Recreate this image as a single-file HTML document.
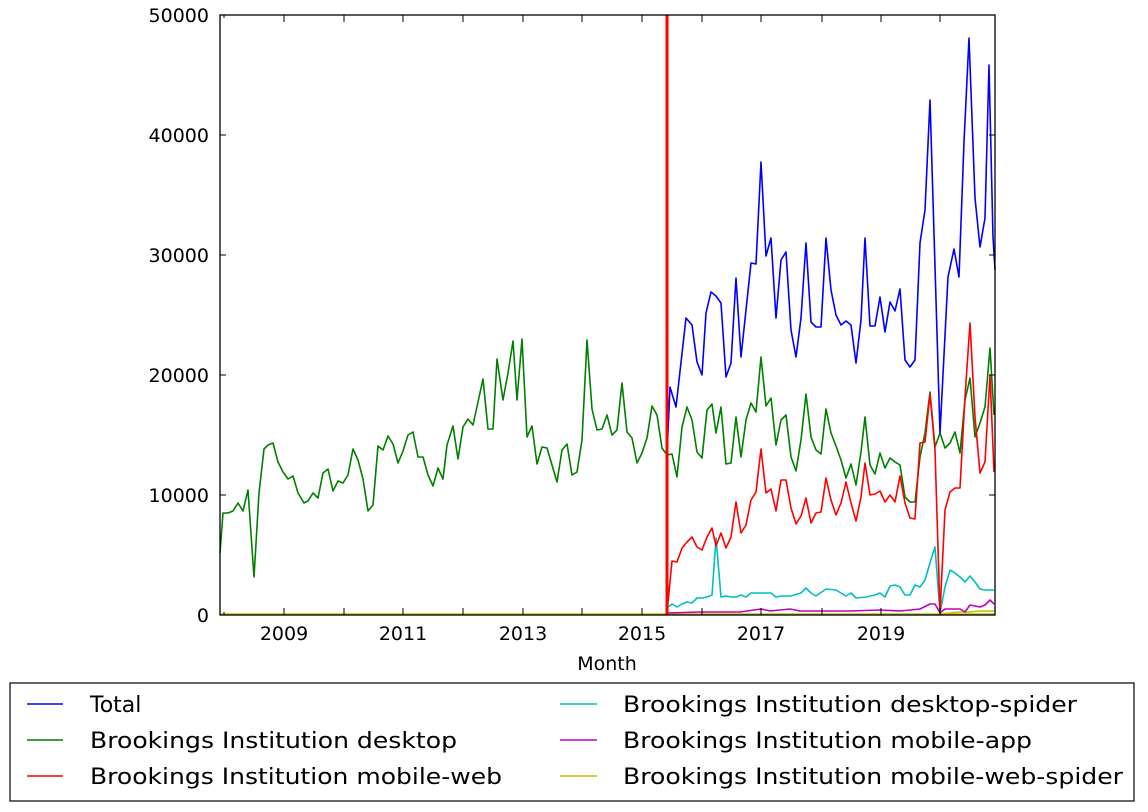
<!DOCTYPE html>
<html><head><meta charset="utf-8"><style>
html,body{margin:0;padding:0;background:#fff;}
svg{display:block;font-family:"DejaVu Sans","Liberation Sans",sans-serif;}
</style></head><body>
<svg width="1148" height="812" viewBox="0 0 1148 812" xmlns="http://www.w3.org/2000/svg">
<rect width="1148" height="812" fill="#fff"/>
<g fill="none" stroke-width="1.6" stroke-linejoin="round">
<!-- yellow baseline -->
<polyline stroke="#bfbf00" points="220,614 995,614"/>
<polyline stroke="#bfbf00" points="940,614 950,613 960,612 970,612 980,611 995,611"/>
<!-- magenta -->
<polyline stroke="#bf00bf" points="667,613 700,612 740,612 761,609 770,611 790,609 800,611 850,611 880,610 900,611 920,609 930,604 935,604 940,613 945,609 960,609 965,612 970,605 980,607 985,605 990,600 994,604"/>
<!-- cyan -->
<polyline stroke="#00bfbf" points="667,608 672,604 677,607 682,604 687,602 692,603 697,598 702,598 707,597 712,595 716,538 721,597 726,596 731,597 736,597 741,595 746,597 751,593 756,593 761,593 766,593 771,593 776,597 781,596 791,596 801,593 806,588 811,593 816,596 826,589 836,590 846,596 851,593 856,598 866,597 875,595 880,593 885,597 890,586 895,585 900,587 905,595 910,595 915,585 920,587 925,580 930,563 935,547 940,613 945,587 950,570 955,573 960,577 965,582 970,576 975,582 980,589 985,590 990,590 994,590"/>
<!-- green -->
<polyline stroke="#007f00" points="220,553 223,513 228,513 233,511 238,503 243,511 248,490 254,577 259,493 264,449 268,445 273,443 278,462 283,472 288,479 293,476 298,493 304,503 308,501 313,493 318,498 323,473 328,469 333,491 338,481 343,483 348,475 353,449 358,460 363,479 368,511 373,505 378,446 383,450 388,436 393,444 398,463 403,451 408,435 413,432 418,457 423,457 428,475 433,486 438,468 443,479 447,445 453,426 458,459 463,427 468,419 473,425 478,402 483,379 488,429 493,429 497,359 503,400 508,373 513,341 517,400 522,339 527,437 532,426 537,464 542,447 547,448 552,465 557,482 562,450 567,444 572,475 577,472 582,440 587,340 592,409 597,430 602,429 607,415 612,435 617,430 622,383 627,432 632,438 637,463 642,453 647,438 652,406 657,415 662,448 667,455 672,454 677,477 682,427 687,407 692,420 697,452 702,458 707,410 712,404 716,433 721,407 726,464 731,463 736,417 741,457 746,420 751,403 756,412 761,357 766,406 771,398 776,445 781,420 786,415 791,457 796,471 801,440 806,394 811,437 816,450 821,454 826,409 831,433 836,446 841,460 846,478 851,464 856,485 861,452 865,417 870,465 875,474 880,453 885,468 890,458 895,462 900,465 905,497 910,502 915,502 920,457 925,433 930,392 935,447 940,433 945,448 950,443 955,432 960,453 965,400 970,378 975,437 980,423 985,407 990,348 994,415"/>
<!-- red series -->
<polyline stroke="#ff0000" points="667,613 672,561 677,562 682,548 687,542 692,537 697,547 702,550 707,537 712,528 716,546 721,533 726,548 731,537 736,502 741,533 746,525 751,500 756,492 761,449 766,493 771,489 776,511 781,480 786,480 791,508 796,524 801,516 806,498 811,523 816,513 821,512 826,478 831,500 836,515 841,503 846,482 851,503 856,521 861,497 865,463 870,495 875,494 880,491 885,502 890,495 895,502 900,476 905,503 910,518 915,519 920,443 925,442 930,394 935,450 940,613 945,510 950,492 955,488 960,488 965,397 970,323 975,417 980,473 985,462 990,375 994,472"/>
<!-- blue total -->
<polyline stroke="#0000ff" points="667,455 670,387 676,407 686,318 692,325 697,362 702,375 706,313 711,292 716,296 721,303 726,377 731,363 736,278 741,357 751,263 756,264 761,162 766,256 771,238 776,318 781,260 786,252 791,330 796,357 801,318 806,243 811,322 816,327 821,327 826,238 831,290 836,315 841,325 846,321 851,325 856,363 861,320 865,238 870,326 875,326 880,297 885,332 890,302 895,311 900,289 905,360 910,367 915,360 920,243 925,210 930,100 940,433 948,277 954,249 959,277 964,142 969,38 975,198 980,247 985,218 989,65 993,237 995,270"/>
<!-- red vertical -->
<line x1="667" y1="15" x2="667" y2="615" stroke="#ff0000" stroke-width="3"/>
</g>
<!-- axes frame -->
<rect x="220" y="15" width="775" height="600" fill="none" stroke="#000" stroke-width="1.3"/>
<g stroke="#000" stroke-width="1">
<line x1="220" y1="495" x2="226" y2="495"/><line x1="220" y1="375" x2="226" y2="375"/><line x1="220" y1="255" x2="226" y2="255"/><line x1="220" y1="135" x2="226" y2="135"/>
<line x1="995" y1="495" x2="989" y2="495"/><line x1="995" y1="375" x2="989" y2="375"/><line x1="995" y1="255" x2="989" y2="255"/><line x1="995" y1="135" x2="989" y2="135"/>
<line x1="224" y1="615" x2="224" y2="612"/><line x1="224" y1="15" x2="224" y2="18"/>
<line x1="284" y1="615" x2="284" y2="608"/><line x1="344" y1="615" x2="344" y2="608"/><line x1="403" y1="615" x2="403" y2="608"/><line x1="463" y1="615" x2="463" y2="608"/><line x1="523" y1="615" x2="523" y2="608"/><line x1="582" y1="615" x2="582" y2="608"/><line x1="642" y1="615" x2="642" y2="608"/><line x1="702" y1="615" x2="702" y2="608"/><line x1="761" y1="615" x2="761" y2="608"/><line x1="822" y1="615" x2="822" y2="608"/><line x1="881" y1="615" x2="881" y2="608"/><line x1="940" y1="615" x2="940" y2="608"/>
<line x1="284" y1="15" x2="284" y2="22"/><line x1="344" y1="15" x2="344" y2="22"/><line x1="403" y1="15" x2="403" y2="22"/><line x1="463" y1="15" x2="463" y2="22"/><line x1="523" y1="15" x2="523" y2="22"/><line x1="582" y1="15" x2="582" y2="22"/><line x1="642" y1="15" x2="642" y2="22"/><line x1="702" y1="15" x2="702" y2="22"/><line x1="761" y1="15" x2="761" y2="22"/><line x1="822" y1="15" x2="822" y2="22"/><line x1="881" y1="15" x2="881" y2="22"/><line x1="940" y1="15" x2="940" y2="22"/>
</g>
<g font-size="19" fill="#000" text-anchor="end">
<text x="209" y="622">0</text><text x="209" y="502">10000</text><text x="209" y="382">20000</text><text x="209" y="262">30000</text><text x="209" y="142">40000</text><text x="209" y="22">50000</text>
</g>
<g font-size="19" fill="#000" text-anchor="middle">
<text x="284" y="640">2009</text><text x="403" y="640">2011</text><text x="523" y="640">2013</text><text x="642" y="640">2015</text><text x="761" y="640">2017</text><text x="881" y="640">2019</text>
<text x="607" y="670">Month</text>
</g>
<!-- legend -->
<rect x="10" y="683" width="1124" height="118" fill="#fff" stroke="#000" stroke-width="1.2"/>
<g stroke-width="1.6">
<line x1="27" y1="704" x2="63" y2="704" stroke="#0000ff"/>
<line x1="27" y1="740" x2="63" y2="740" stroke="#007f00"/>
<line x1="27" y1="776" x2="63" y2="776" stroke="#ff0000"/>
<line x1="560" y1="704" x2="597" y2="704" stroke="#00bfbf"/>
<line x1="560" y1="740" x2="597" y2="740" stroke="#bf00bf"/>
<line x1="560" y1="776" x2="597" y2="776" stroke="#bfbf00"/>
</g>
<g font-size="22" fill="#000">
<text x="90" y="712">Total</text>
<text x="90" y="748" textLength="367" lengthAdjust="spacingAndGlyphs">Brookings Institution desktop</text>
<text x="90" y="784" textLength="412" lengthAdjust="spacingAndGlyphs">Brookings Institution mobile-web</text>
<text x="623" y="712" textLength="454" lengthAdjust="spacingAndGlyphs">Brookings Institution desktop-spider</text>
<text x="623" y="748" textLength="409" lengthAdjust="spacingAndGlyphs">Brookings Institution mobile-app</text>
<text x="623" y="784" textLength="500" lengthAdjust="spacingAndGlyphs">Brookings Institution mobile-web-spider</text>
</g>
</svg>
</body></html>
